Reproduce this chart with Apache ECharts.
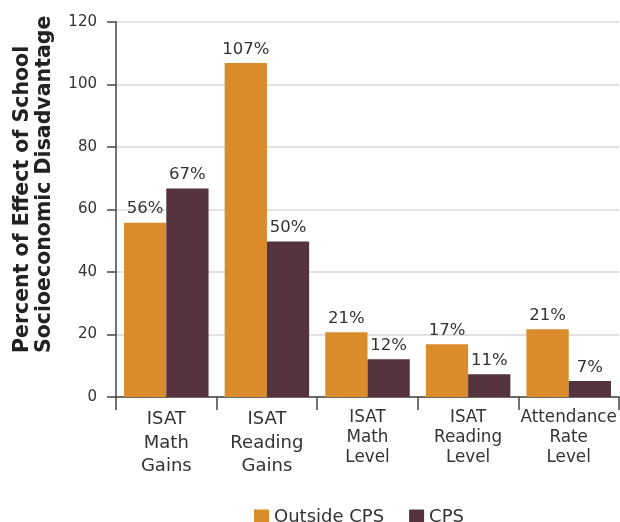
<!DOCTYPE html>
<html>
<head>
<meta charset="utf-8">
<script src="https://cdn.jsdelivr.net/npm/echarts@6/dist/echarts.min.js"></script>
<style>html,body{margin:0;padding:0;background:#fff}#c{width:620px;height:522px}</style>
</head>
<body>
<div id="c"></div>
<script>
const categories = ["ISAT\nMath\nGains", "ISAT\nReading\nGains", "ISAT\nMath\nLevel", "ISAT\nReading\nLevel", "Attendance\nRate\nLevel"];
const seriesNames = ["Outside CPS", "CPS"];
const outsideValues = [55.8, 106.9, 20.7, 16.9, 21.7];
const cpsValues = [66.7, 49.8, 12.1, 7.3, 5.1];
const outsideLabels = ["56%", "107%", "21%", "17%", "21%"];
const cpsLabels = ["67%", "50%", "12%", "11%", "7%"];
const yTicks = [0, 20, 40, 60, 80, 100, 120];
const yTitle = "Percent of Effect of School\nSocioeconomic Disadvantage";

const FONT = "'DejaVu Sans', sans-serif";
const TXT = "#333333";
const chart = echarts.init(document.getElementById('c'));
chart.setOption({
  animation: false,
  textStyle: { fontFamily: FONT, color: TXT },
  grid: { left: 116, right: 1, top: 22, bottom: 125, containLabel: false },
  legend: {
    data: seriesNames, left: 249, top: 503,
    itemWidth: 15, itemHeight: 15, itemGap: 25, icon: 'rect',
    textStyle: { fontFamily: FONT, fontSize: 18, color: TXT }
  },
  xAxis: {
    type: 'category', data: categories,
    axisLine: { lineStyle: { color: '#444', width: 1.5 } },
    axisTick: { show: true, length: 13, alignWithLabel: false, lineStyle: { color: '#444', width: 1.5 } },
    axisLabel: {
      interval: 0, margin: 11,
      formatter: function (v, i) {
        const key = i < 2 ? 'big' : 'small';
        return v.split('\n').map(s => '{' + key + '|' + s + '}').join('\n');
      },
      rich: {
        big: { fontFamily: FONT, fontSize: 18, lineHeight: 23.5, color: TXT },
        small: { fontFamily: FONT, fontSize: 16.8, lineHeight: 20, color: TXT }
      }
    }
  },
  yAxis: {
    type: 'value', min: yTicks[0], max: yTicks[yTicks.length - 1], interval: 20,
    axisLine: { show: true, lineStyle: { color: '#444', width: 1.5 } },
    axisTick: { show: true, length: 9, lineStyle: { color: '#444', width: 1.5 } },
    axisLabel: { margin: 19, fontFamily: FONT, fontSize: 15, color: TXT },
    splitLine: { show: true, lineStyle: { color: '#d9d9d9', width: 1.5 } }
  },
  graphic: [{
    type: 'text', x: 34, y: 353, rotation: Math.PI / 2,
    style: {
      text: yTitle, fontFamily: FONT, fontWeight: 'bold', fontSize: 20.5,
      lineHeight: 22, fill: '#222', align: 'left', verticalAlign: 'middle'
    }
  }],
  series: [
    {
      name: seriesNames[0], type: 'bar', data: outsideValues,
      barGap: '0%', barCategoryGap: '16%',
      itemStyle: { color: '#D98C29' },
      label: { show: true, position: 'top', distance: 5, fontFamily: FONT, fontSize: 16.5, color: TXT,
        formatter: p => outsideLabels[p.dataIndex] }
    },
    {
      name: seriesNames[1], type: 'bar', data: cpsValues,
      barGap: '0%', barCategoryGap: '16%',
      itemStyle: { color: '#54323E' },
      label: { show: true, position: 'top', distance: 5, fontFamily: FONT, fontSize: 16.5, color: TXT,
        formatter: p => cpsLabels[p.dataIndex] }
    }
  ]
});
</script>
</body>
</html>
